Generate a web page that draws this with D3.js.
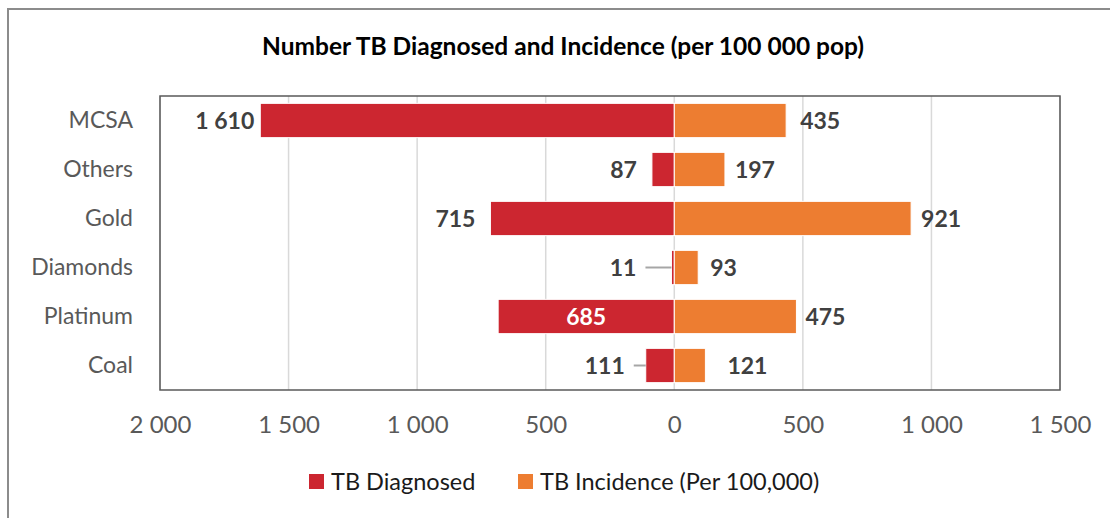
<!DOCTYPE html>
<html>
<head>
<meta charset="utf-8">
<script src="https://cdn.jsdelivr.net/npm/d3@7"></script>
<style>
	body {margin: 0; background: #fff;}
	text {font-family: Lato, "Open Sans", sans-serif;}
</style>
</head>
<body>
<div id="vis"></div>
<script>
// data
const categories = ["MCSA", "Others", "Gold", "Diamonds", "Platinum", "Coal"];
const diagnosed = [1610, 87, 715, 11, 685, 111];
const incidence = [435, 197, 921, 93, 475, 121];
const xTicks = [-2000, -1500, -1000, -500, 0, 500, 1000, 1500];
const seriesNames = ["TB Diagnosed", "TB Incidence (Per 100,000)"];

// label placement (gap in px from bar end)
const diagLabelGap = [6, 15, 15, 35, 0, 21];
const diagLabelInside = [false, false, false, false, true, false];
const incLabelGap = [14, 10, 10, 12, 9, 22];

const COLORS = ["#cc2630", "#ed7d31"];

// frame
const FRAME_HEIGHT = 518;
const FRAME_WIDTH = 1110;
const MARGINS = {left: 160, right: 50, top: 96, bottom: 128};

const FRAME = d3.select("#vis")
				.append("svg")
					.attr("height", FRAME_HEIGHT)
					.attr("width", FRAME_WIDTH);

const fmt = d3.formatLocale({decimal: ".", thousands: " ", grouping: [3], currency: ["", ""]}).format(",d");

// outer border
FRAME.append("rect")
		.attr("x", 8).attr("y", 9)
		.attr("width", 1200).attr("height", 600)
		.attr("fill", "none")
		.attr("stroke", "#8c8c8c")
		.attr("stroke-width", 2);

// title
FRAME.append("text")
		.attr("x", 563).attr("y", 55)
		.attr("text-anchor", "middle")
		.attr("font-size", "24.5px")
		.attr("font-weight", "bold")
		.attr("fill", "#000")
		.text("Number TB Diagnosed and Incidence (per 100 000 pop)");

// scales
const X = d3.scaleLinear()
			.domain([-2000, 1500])
			.range([MARGINS.left, FRAME_WIDTH - MARGINS.right]);

const Y = d3.scaleBand()
			.domain(categories)
			.range([MARGINS.top, FRAME_HEIGHT - MARGINS.bottom])
			.paddingInner(0.3)
			.paddingOuter(0.15);

const PLOT_BOTTOM = FRAME_HEIGHT - MARGINS.bottom;

// gridlines
FRAME.selectAll(".grid")
		.data(xTicks)
		.enter()
		.append("line")
			.attr("x1", (d) => X(d)).attr("x2", (d) => X(d))
			.attr("y1", MARGINS.top).attr("y2", PLOT_BOTTOM)
			.attr("stroke", "#d9d9d9")
			.attr("stroke-width", 1.5);

// x axis
const xAxis = FRAME.append("g")
		.attr("transform", "translate(0," + PLOT_BOTTOM + ")")
		.call(d3.axisBottom(X).tickValues(xTicks).tickSize(0).tickPadding(26)
				.tickFormat((d) => fmt(Math.abs(d))));
xAxis.select(".domain").remove();
xAxis.selectAll("text")
		.attr("font-size", "24px")
		.attr("font-family", "Lato, sans-serif")
		.attr("fill", "#595959");

// y axis
const yAxis = FRAME.append("g")
		.attr("transform", "translate(" + MARGINS.left + ",0)")
		.call(d3.axisLeft(Y).tickSize(0).tickPadding(27));
yAxis.select(".domain").remove();
yAxis.selectAll("text")
		.attr("font-size", "23px")
		.attr("font-family", "Lato, sans-serif")
		.attr("fill", "#595959");

// bars
const rows = categories.map((c, i) => ({cat: c, diag: diagnosed[i], inc: incidence[i], i: i}));

FRAME.selectAll(".barL")
		.data(rows)
		.enter()
		.append("rect")
			.attr("x", (d) => X(-d.diag))
			.attr("y", (d) => Y(d.cat))
			.attr("width", (d) => X(0) - X(-d.diag))
			.attr("height", Y.bandwidth())
			.attr("fill", COLORS[0])
			.attr("stroke", "#fff")
			.attr("stroke-width", 1);

FRAME.selectAll(".barR")
		.data(rows)
		.enter()
		.append("rect")
			.attr("x", X(0))
			.attr("y", (d) => Y(d.cat))
			.attr("width", (d) => X(d.inc) - X(0))
			.attr("height", Y.bandwidth())
			.attr("fill", COLORS[1])
			.attr("stroke", "#fff")
			.attr("stroke-width", 1);

// plot border
FRAME.append("rect")
		.attr("x", MARGINS.left).attr("y", MARGINS.top)
		.attr("width", X.range()[1] - X.range()[0])
		.attr("height", PLOT_BOTTOM - MARGINS.top)
		.attr("fill", "none")
		.attr("stroke", "#595959")
		.attr("stroke-width", 1.5);

// leader lines for labels pushed away from small bars
FRAME.selectAll(".leader")
		.data(rows.filter((d) => diagLabelGap[d.i] >= 20))
		.enter()
		.append("line")
			.attr("x1", (d) => X(-d.diag) - diagLabelGap[d.i] + 9)
			.attr("x2", (d) => X(-d.diag))
			.attr("y1", (d) => Y(d.cat) + Y.bandwidth() / 2)
			.attr("y2", (d) => Y(d.cat) + Y.bandwidth() / 2)
			.attr("stroke", "#a6a6a6")
			.attr("stroke-width", 2);

// data labels
FRAME.selectAll(".labL")
		.data(rows)
		.enter()
		.append("text")
			.attr("x", (d) => diagLabelInside[d.i] ? (X(-d.diag) + X(0)) / 2 : X(-d.diag) - diagLabelGap[d.i])
			.attr("y", (d) => Y(d.cat) + Y.bandwidth() / 2)
			.attr("dy", "0.36em")
			.attr("text-anchor", (d) => diagLabelInside[d.i] ? "middle" : "end")
			.attr("font-size", "23px")
			.attr("font-weight", "bold")
			.attr("fill", (d) => diagLabelInside[d.i] ? "#fff" : "#404040")
			.text((d) => fmt(d.diag));

FRAME.selectAll(".labR")
		.data(rows)
		.enter()
		.append("text")
			.attr("x", (d) => X(d.inc) + incLabelGap[d.i])
			.attr("y", (d) => Y(d.cat) + Y.bandwidth() / 2)
			.attr("dy", "0.36em")
			.attr("font-size", "23px")
			.attr("font-weight", "bold")
			.attr("fill", "#404040")
			.text((d) => fmt(d.inc));

// legend
const legendX = [309, 518];
const legend = FRAME.selectAll(".legend")
		.data(seriesNames)
		.enter()
		.append("g")
			.attr("transform", (d, i) => "translate(" + legendX[i] + ",474)");
legend.append("rect")
		.attr("width", 15).attr("height", 15)
		.attr("fill", (d, i) => COLORS[i]);
legend.append("text")
		.attr("x", 22).attr("y", 16)
		.attr("font-size", "23.5px")
		.attr("fill", "#1a1a1a")
		.text((d) => d);
</script>
</body>
</html>
